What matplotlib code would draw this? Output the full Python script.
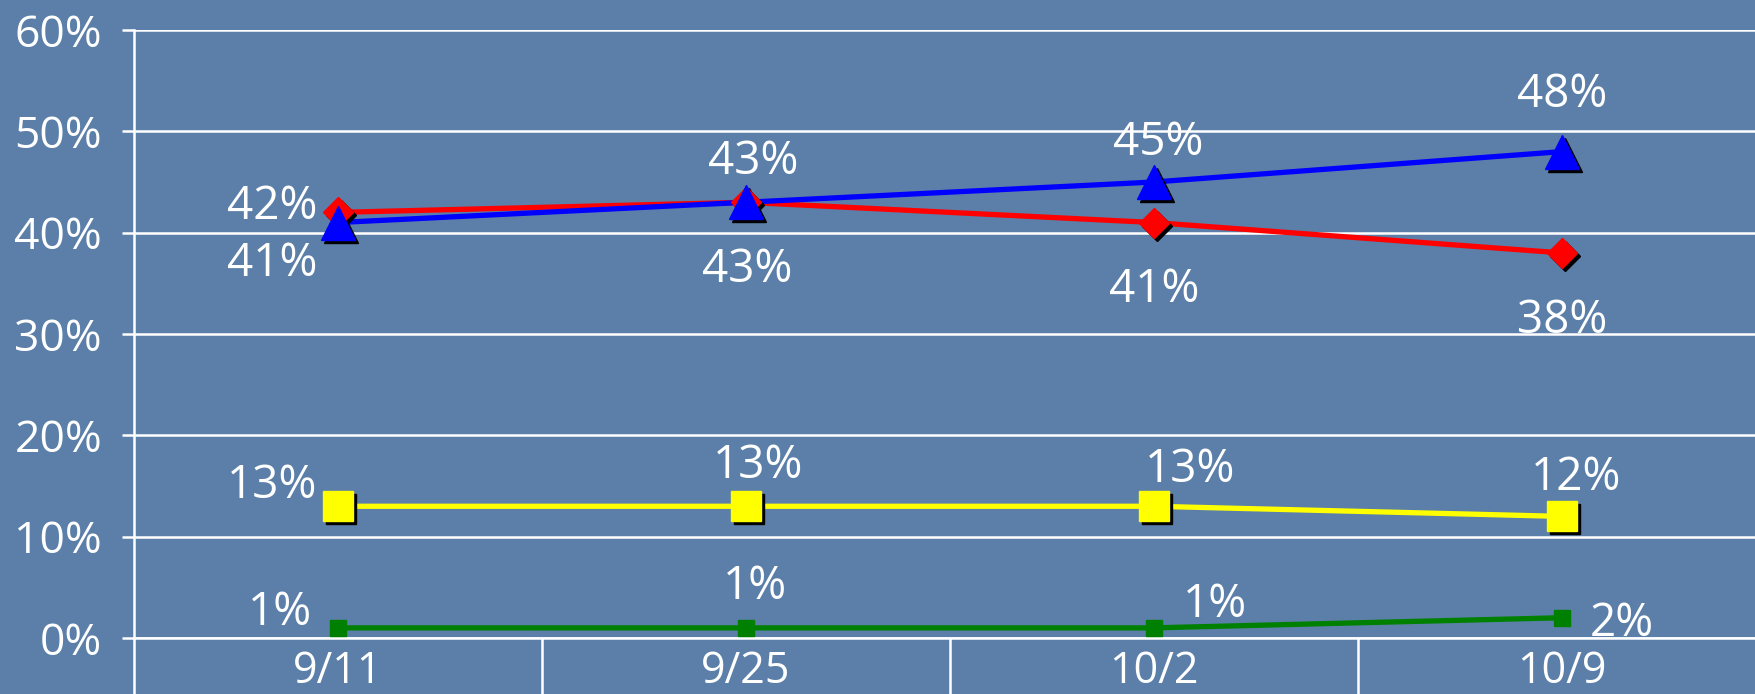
import matplotlib.pyplot as plt
from matplotlib.transforms import ScaledTranslation
from matplotlib.ticker import FixedLocator, PercentFormatter

# values (percent)
dates = ['9/11', '9/25', '10/2', '10/9']
blue_vals = [41, 43, 45, 48]
red_vals = [42, 43, 41, 38]
yellow_vals = [13, 13, 13, 12]
green_vals = [1, 1, 1, 2]

BG = '#5b7fa8'
FONT = ['Open Sans', 'DejaVu Sans']

plt.rcParams['font.family'] = FONT

fig = plt.figure(figsize=(17.56, 6.94), dpi=100, facecolor=BG)
ax = fig.add_axes([134 / 1756, 56 / 694, 1632 / 1756, 608 / 694])
ax.set_facecolor(BG)

x = list(range(len(dates)))
shadow = ax.transData + ScaledTranslation(3 / 100, -3 / 100, fig.dpi_scale_trans)

series = [
    (red_vals, 'red', 'D', 15, True),
    (blue_vals, 'blue', '^', 25, True),
    (yellow_vals, 'yellow', 's', 21, True),
    (green_vals, 'green', 's', 11, False),
]
for vals, color, marker, ms, has_shadow in series:
    ax.plot(x, vals, color=color, lw=3.8, zorder=3, solid_capstyle='butt')
    if has_shadow:
        ax.plot(x, vals, ls='none', marker=marker, ms=ms, color='black',
                mec='black', transform=shadow, zorder=4)
    ax.plot(x, vals, ls='none', marker=marker, ms=ms, color=color,
            mec=color, zorder=5)

# label offsets in pixels (dx, dy)
label_offsets = {
    'blue': [(-66, -41), (7, 40), (4, 39), (0, 57)],
    'red': [(-66, 5), (1, -68), (0, -67), (0, -68)],
    'yellow': [(-66, 20), (12, 40), (36, 36), (14, 38)],
    'green': [(-58, 15), (9, 41), (61, 23), (60, -6)],
}
for vals, color in [(blue_vals, 'blue'), (red_vals, 'red'),
                    (yellow_vals, 'yellow'), (green_vals, 'green')]:
    for i, v in enumerate(vals):
        ax.annotate(f'{v}%', (i, v), xytext=label_offsets[color][i],
                    textcoords='offset pixels', ha='center', va='center',
                    color='white', fontsize=33, zorder=6,
                    annotation_clip=False)

ax.set_xlim(-0.5, 3.5)
ax.set_ylim(0, 60)

ax.yaxis.set_major_locator(FixedLocator(range(0, 61, 10)))
ax.yaxis.set_major_formatter(PercentFormatter(decimals=0))
ax.grid(axis='y', color='white', lw=1.8, zorder=1)
ax.tick_params(axis='y', colors='white', labelcolor='white', length=9,
               width=1.8, pad=14, labelsize=32, direction='out')

ax.set_xticks(x)
ax.set_xticklabels(dates)
ax.set_xticks([-0.5, 0.5, 1.5, 2.5, 3.5], minor=True)
ax.tick_params(axis='x', which='major', length=0, pad=8, labelsize=31,
               labelcolor='white')
ax.tick_params(axis='x', which='minor', length=45, width=1.8,
               color='white', direction='out')

for side in ['top', 'right']:
    ax.spines[side].set_visible(False)
ax.spines['left'].set_color('white')
ax.spines['left'].set_linewidth(1.8)
ax.spines['bottom'].set_color('white')
ax.spines['bottom'].set_linewidth(1.8)

fig.savefig('out.png', dpi=100, facecolor=BG)
